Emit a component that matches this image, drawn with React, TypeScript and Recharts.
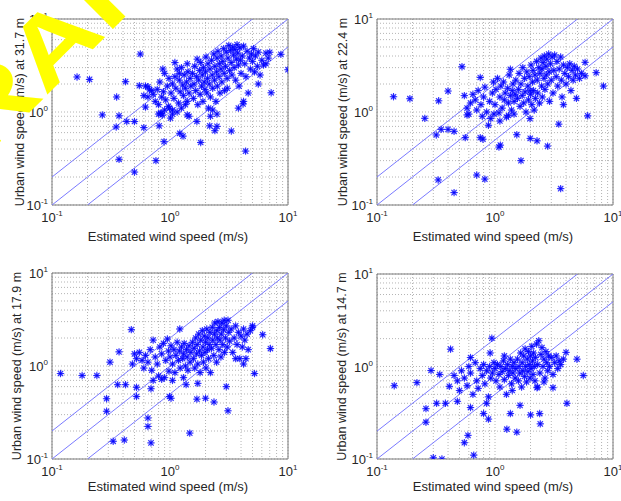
import React from 'react';
import { ScatterChart, Scatter, XAxis, YAxis, CartesianGrid, ReferenceLine, ReferenceArea } from 'recharts';

type Pt = [number, number];

const AXIS_TICKS = [0.1, 0.2, 0.3, 0.4, 0.5, 0.6, 0.7, 0.8, 0.9, 1, 2, 3, 4, 5, 6, 7, 8, 9, 10];
const DECADE_LABELS: Record<string, string> = { '0.1': '-1', '1': '0', '10': '1' };
const LINE_FACTORS = [2, 1, 0.5];
const X_LABEL = 'Estimated wind speed (m/s)';
const Y_LABELS = [
  'Urban wind speed (m/s) at 31.7 m',
  'Urban wind speed (m/s) at 22.4 m',
  'Urban wind speed (m/s) at 17.9 m',
  'Urban wind speed (m/s) at 14.7 m',
];
const WATERMARK = 'DRAFT';

const POINTS_31_7: Pt[] = [
  [0.163, 2.38], [0.208, 2.24], [0.56, 4.2], [0.42, 2.12], [0.353, 1.45], [0.267, 0.93], [0.37, 0.91], [0.43, 0.79],
  [0.5, 0.79], [0.35, 0.69], [0.6, 0.68], [0.37, 0.31], [0.5, 0.226], [0.76, 0.3], [0.81, 0.71], [0.89, 0.48],
  [0.62, 1.13], [0.55, 1.92], [0.65, 1.87], [0.67, 1.73], [1.21, 0.59], [1.29, 0.55], [1.82, 0.47], [1.69, 0.79],
  [2.17, 0.71], [2.4, 0.63], [2.5, 0.7], [3.31, 0.625], [4.37, 0.38], [4.16, 1.22], [7.2, 1.61], [10, 2.85],
  [8.7, 4.17], [7.0, 4.39], [5.6, 2.0], [6.5, 3.3], [3.06, 1.8], [1.01, 0.86], [1.05, 0.95], [1.4, 0.93],
  [1.45, 0.9], [0.99, 1.1], [0.85, 0.97], [0.86, 0.93],
  [0.72, 1.55], [0.75, 1.3], [0.78, 1.75], [0.8, 1.2], [0.82, 2.1], [0.85, 1.45], [0.88, 1.65], [0.9, 2.6],
  [0.92, 1.35], [0.95, 1.9], [0.97, 1.15], [0.98, 2.3], [0.8, 0.95], [0.83, 0.97], [0.9, 1.05], [0.87, 2.9],
  [0.7, 1.7], [0.65, 1.45], [0.6, 1.5], [0.62, 1.9],
  [1.02, 1.6], [1.05, 2.0], [1.08, 1.4], [1.1, 2.4], [1.12, 1.8], [1.15, 2.9], [1.18, 1.25], [1.2, 2.2],
  [1.22, 1.65], [1.25, 3.0], [1.28, 1.95], [1.3, 1.5], [1.32, 2.5], [1.35, 1.8], [1.38, 2.1], [1.4, 1.3],
  [1.42, 2.7], [1.45, 1.6], [1.48, 2.3], [1.5, 1.9], [1.05, 1.05], [1.15, 1.0], [1.25, 1.1], [1.35, 1.2],
  [1.1, 3.4], [1.2, 2.6], [1.4, 3.3],
  [1.55, 2.6], [1.58, 1.4], [1.6, 2.0], [1.62, 3.1], [1.65, 1.7], [1.68, 2.4], [1.7, 3.7], [1.72, 1.2],
  [1.75, 2.2], [1.78, 2.8], [1.8, 1.55], [1.82, 3.4], [1.85, 1.9], [1.88, 2.5], [1.9, 1.3], [1.92, 3.0],
  [1.95, 2.1], [1.98, 1.75], [2.0, 2.7], [2.02, 3.9], [2.05, 1.6], [2.08, 2.3], [2.1, 3.3], [2.12, 1.1],
  [2.15, 2.0], [2.18, 2.9], [2.2, 1.45],
  [2.25, 3.6], [2.28, 2.5], [2.3, 1.8], [2.35, 4.2], [2.38, 2.2], [2.4, 3.1], [2.45, 1.3], [2.48, 2.7],
  [2.5, 3.8], [2.52, 1.9], [2.55, 4.5], [2.6, 2.4], [2.62, 3.3], [2.65, 1.6], [2.7, 2.9], [2.72, 4.0],
  [2.75, 2.1], [2.8, 3.5], [2.85, 4.8], [2.88, 2.6], [2.9, 1.7], [2.95, 3.1], [3.0, 4.4], [3.05, 2.3],
  [3.1, 3.8], [3.15, 5.2], [3.2, 2.8], [2.3, 1.05], [2.5, 0.95], [2.2, 0.9],
  [3.25, 4.6], [3.3, 3.4], [3.35, 2.5], [3.4, 5.0], [3.45, 4.1], [3.5, 3.0], [3.55, 4.7], [3.6, 2.2],
  [3.65, 3.7], [3.7, 5.3], [3.75, 4.3], [3.8, 3.2], [3.85, 1.9], [3.9, 4.9], [3.95, 3.6], [4.0, 2.6],
  [4.1, 4.0], [4.2, 5.1], [4.3, 3.3], [4.4, 2.4], [4.5, 4.5], [4.6, 1.6], [4.7, 3.8], [4.8, 2.9],
  [4.9, 4.2], [5.0, 3.5], [5.1, 4.8], [5.2, 2.7], [5.3, 4.0], [5.5, 3.1], [5.6, 4.4], [5.8, 2.5],
  [6.0, 3.6], [6.2, 3.2], [6.5, 4.3], [6.8, 3.8], [4.2, 1.3], [3.8, 1.1],
];

const POINTS_22_4: Pt[] = [
  [0.138, 1.46], [0.19, 1.39], [0.254, 0.855], [0.333, 1.32], [0.4, 1.68], [0.318, 0.566], [0.35, 0.65], [0.4, 0.65],
  [0.45, 0.62], [0.33, 0.186], [0.45, 0.136], [0.525, 3.07], [0.56, 0.53], [0.58, 0.93], [0.7, 0.21], [0.82, 0.19],
  [0.75, 0.53], [0.79, 0.51], [1.11, 0.44], [1.08, 0.42], [1.53, 0.57], [1.66, 0.3], [1.99, 0.52], [2.27, 0.49],
  [2.79, 0.43], [3.47, 0.74], [3.6, 0.15], [3.8, 1.2], [6.1, 0.91], [8.3, 1.9], [7.2, 2.65], [5.8, 3.42],
  [1.35, 2.88], [1.99, 1.7],
  [0.55, 1.5], [0.58, 1.1], [0.6, 0.95], [0.62, 1.25], [0.65, 1.55], [0.68, 1.35], [0.7, 1.05], [0.72, 1.7],
  [0.75, 2.35], [0.76, 1.2], [0.78, 0.9], [0.8, 1.45], [0.82, 1.85], [0.85, 1.0], [0.88, 0.72], [0.9, 1.3],
  [0.92, 0.85], [0.95, 1.6], [0.97, 2.1], [0.98, 0.95],
  [1.0, 1.2], [1.02, 1.75], [1.05, 2.3], [1.08, 0.98], [1.1, 1.45], [1.12, 1.9], [1.15, 1.1], [1.18, 2.1],
  [1.2, 1.35], [1.22, 1.6], [1.25, 0.88], [1.28, 1.8], [1.3, 1.25], [1.32, 2.5], [1.35, 1.5], [1.38, 1.05],
  [1.4, 1.7], [1.42, 2.0], [1.45, 1.3], [1.48, 1.55], [1.5, 2.2], [1.1, 0.8], [1.3, 0.92], [1.45, 0.95],
  [1.55, 1.4], [1.58, 1.75], [1.6, 2.6], [1.63, 1.15], [1.66, 2.0], [1.7, 1.5], [1.72, 3.0], [1.75, 1.25],
  [1.78, 2.3], [1.8, 1.65], [1.83, 1.0], [1.86, 2.7], [1.9, 1.9], [1.92, 1.35], [1.95, 2.4], [1.98, 0.85],
  [2.0, 1.55], [2.02, 3.2], [2.05, 1.2], [2.08, 2.1], [2.1, 2.8], [2.12, 1.7], [2.15, 1.05], [2.18, 2.5],
  [2.2, 1.4],
  [2.25, 3.5], [2.28, 2.2], [2.3, 1.6], [2.35, 3.0], [2.38, 1.25], [2.4, 2.6], [2.45, 3.8], [2.48, 1.9],
  [2.5, 2.9], [2.52, 1.45], [2.55, 3.4], [2.6, 2.3], [2.62, 4.0], [2.65, 1.75], [2.7, 3.1], [2.72, 2.5],
  [2.75, 3.7], [2.8, 2.0], [2.85, 4.2], [2.88, 2.7], [2.9, 1.3], [2.95, 3.3], [3.0, 2.2], [3.05, 3.9],
  [3.1, 1.6], [3.15, 2.8], [3.2, 4.1],
  [3.3, 2.4], [3.35, 3.5], [3.4, 1.9], [3.5, 2.9], [3.6, 3.9], [3.65, 2.2], [3.7, 1.45], [3.8, 3.2],
  [3.9, 2.6], [4.0, 2.0], [4.1, 3.0], [4.2, 2.4], [4.3, 3.3], [4.4, 1.7], [4.5, 2.8], [4.6, 2.2],
  [4.7, 3.1], [4.8, 2.5], [4.9, 1.4], [5.0, 2.9], [5.2, 2.3], [5.4, 2.6], [5.8, 2.45],
];

const POINTS_17_9: Pt[] = [
  [0.118, 0.83], [0.18, 0.79], [0.24, 0.79], [0.31, 1.1], [0.29, 0.445], [0.29, 0.326], [0.33, 0.155], [0.41, 0.16],
  [0.36, 0.63], [0.42, 0.63], [0.37, 1.42], [0.47, 2.46], [0.52, 0.47], [0.52, 0.59], [0.65, 0.276], [0.65, 0.224],
  [0.69, 0.149], [0.69, 0.57], [0.99, 0.47], [1.02, 0.45], [1.37, 0.63], [1.47, 0.19], [1.69, 0.44], [2.0, 0.45],
  [2.36, 0.41], [3.1, 0.33], [3.0, 0.6], [1.72, 0.65], [5.2, 0.83], [6.1, 2.17], [7.1, 1.54], [5.0, 2.6],
  [1.21, 2.5],
  [0.48, 1.05], [0.5, 1.35], [0.52, 1.2], [0.55, 1.4], [0.58, 1.15], [0.6, 0.95], [0.62, 1.3], [0.65, 1.1],
  [0.68, 1.5], [0.7, 0.9], [0.72, 1.9], [0.75, 1.25], [0.78, 1.05], [0.8, 0.78], [0.82, 1.6], [0.85, 1.35],
  [0.88, 1.75], [0.9, 0.75], [0.92, 1.15], [0.95, 1.95], [0.97, 1.45], [0.98, 0.88], [0.72, 0.7], [0.85, 0.72],
  [1.0, 1.25], [1.02, 1.65], [1.05, 1.05], [1.08, 1.5], [1.1, 0.85], [1.12, 1.3], [1.15, 1.8], [1.18, 1.15],
  [1.2, 1.45], [1.22, 0.95], [1.25, 1.6], [1.28, 1.2], [1.3, 1.35], [1.32, 1.75], [1.35, 1.0], [1.38, 1.5],
  [1.4, 1.25], [1.42, 0.9], [1.45, 1.65], [1.48, 1.1], [1.5, 1.4], [1.05, 0.7], [1.3, 0.75],
  [1.55, 1.8], [1.58, 1.2], [1.6, 1.55], [1.62, 0.95], [1.65, 2.0], [1.68, 1.35], [1.7, 1.7], [1.72, 1.05],
  [1.75, 2.2], [1.78, 1.45], [1.8, 0.85], [1.82, 1.9], [1.85, 1.3], [1.88, 2.4], [1.9, 1.6], [1.92, 1.1],
  [1.95, 2.1], [1.98, 1.4], [2.0, 1.8], [2.02, 0.95], [2.05, 2.5], [2.08, 1.5], [2.1, 2.0], [2.12, 1.2],
  [2.15, 1.7], [2.18, 2.3], [2.2, 0.85],
  [2.25, 1.55], [2.28, 2.6], [2.3, 1.9], [2.35, 1.3], [2.38, 2.2], [2.4, 2.9], [2.45, 1.7], [2.48, 1.1],
  [2.5, 2.4], [2.52, 2.0], [2.55, 3.0], [2.6, 1.5], [2.62, 2.6], [2.65, 1.9], [2.7, 1.25], [2.72, 2.2],
  [2.75, 2.9], [2.8, 1.7], [2.85, 2.45], [2.88, 3.1], [2.9, 1.4], [2.95, 2.0], [3.0, 2.7], [3.05, 1.6],
  [3.1, 3.1], [3.15, 2.3], [3.2, 1.85],
  [3.3, 2.5], [3.4, 1.4], [3.5, 2.0], [3.6, 2.7], [3.7, 1.7], [3.8, 2.3], [3.9, 1.2], [4.0, 2.1],
  [4.1, 1.6], [4.2, 2.5], [4.3, 1.9], [4.4, 1.2], [4.5, 2.2], [4.6, 1.5], [4.8, 2.4], [5.0, 2.7],
  [4.2, 1.05], [3.6, 1.2],
];

const POINTS_14_7: Pt[] = [
  [0.14, 0.62], [0.218, 0.67], [0.287, 0.905], [0.34, 0.82], [0.42, 1.54], [0.26, 0.35], [0.32, 0.4], [0.38, 0.4],
  [0.26, 0.25], [0.3, 0.103], [0.355, 0.1], [0.55, 0.15], [0.59, 0.18], [0.66, 0.11], [0.41, 0.61], [0.48, 0.42],
  [0.62, 0.36], [0.8, 0.31], [0.88, 0.27], [0.94, 2.02], [0.91, 1.4], [1.26, 0.21], [1.53, 0.195], [1.35, 0.31],
  [1.63, 0.38], [2.0, 0.3], [2.27, 0.59], [2.42, 0.24], [2.39, 0.31], [3.1, 0.59], [4.07, 0.4], [4.0, 1.42],
  [4.95, 1.2], [5.6, 0.8],
  [0.45, 0.8], [0.48, 0.7], [0.5, 0.55], [0.52, 0.9], [0.55, 0.75], [0.58, 0.62], [0.6, 1.0], [0.62, 0.85],
  [0.65, 0.5], [0.68, 1.1], [0.7, 0.7], [0.72, 0.58], [0.75, 0.95], [0.78, 0.8], [0.8, 1.05], [0.82, 0.65],
  [0.85, 0.9], [0.88, 0.47], [0.9, 1.0], [0.92, 0.75], [0.95, 0.85], [0.98, 1.1], [0.62, 1.25], [0.85, 0.4],
  [1.0, 0.95], [1.02, 0.7], [1.05, 1.05], [1.08, 0.82], [1.1, 0.6], [1.12, 1.0], [1.15, 0.88], [1.18, 1.15],
  [1.2, 0.72], [1.22, 0.95], [1.25, 0.5], [1.28, 1.05], [1.3, 0.8], [1.32, 0.9], [1.35, 1.2], [1.38, 0.65],
  [1.4, 1.0], [1.42, 0.85], [1.45, 1.1], [1.48, 0.75], [1.5, 0.95], [1.2, 1.3], [1.4, 0.55],
  [1.55, 1.2], [1.58, 0.7], [1.6, 1.0], [1.62, 0.85], [1.65, 1.4], [1.68, 0.6], [1.7, 1.1], [1.72, 0.9],
  [1.75, 1.3], [1.78, 0.78], [1.8, 1.55], [1.82, 1.0], [1.85, 0.68], [1.88, 1.2], [1.9, 0.88], [1.92, 1.45],
  [1.95, 1.05], [1.98, 0.75], [2.0, 1.3], [2.02, 0.95], [2.05, 1.65], [2.08, 1.15], [2.1, 0.82], [2.12, 1.4],
  [2.15, 1.0], [2.18, 0.7], [2.2, 1.25],
  [2.25, 1.75], [2.3, 1.05], [2.35, 1.9], [2.4, 0.85], [2.45, 1.35], [2.5, 1.6], [2.55, 1.0], [2.6, 1.2],
  [2.65, 0.75], [2.7, 1.45], [2.75, 1.1], [2.8, 0.9], [2.85, 1.3], [2.9, 1.0], [3.0, 1.25], [3.1, 0.82],
  [3.2, 1.1], [3.3, 1.3], [3.4, 0.95], [3.5, 1.15], [3.6, 1.05], [3.8, 1.2], [2.3, 0.6], [2.6, 0.68],
];

const PANEL_DATA = [POINTS_31_7, POINTS_22_4, POINTS_17_9, POINTS_14_7];

// layout (pixels)
const LAYOUT = [
  { left: 0, top: 0, w: 310, px: 52, py: 19, pw: 236, ph: 186, ylx: 20 },
  { left: 310, top: 0, w: 311, px: 67, py: 19, pw: 236, ph: 186, ylx: 33 },
  { left: 0, top: 250, w: 310, px: 52, py: 23, pw: 236, ph: 186, ylx: 17 },
  { left: 310, top: 250, w: 311, px: 67, py: 24, pw: 236, ph: 185, ylx: 32 },
];

const FONT = '"Liberation Sans", Arial, sans-serif';
const TEXT = '#262626';

const Asterisk = (props: any) => {
  const { cx, cy } = props;
  if (cx == null || cy == null) return null;
  const r = 3.7;
  const d = 2.7;
  return (
    <g>
      <circle cx={cx} cy={cy} r={2.6} fill="#4040ff" fillOpacity={0.3} />
      <g stroke="#0000ff" strokeWidth={1.1} strokeOpacity={0.8}>
        <line x1={cx - r} y1={cy} x2={cx + r} y2={cy} />
        <line x1={cx} y1={cy - r} x2={cx} y2={cy + r} />
        <line x1={cx - d} y1={cy - d} x2={cx + d} y2={cy + d} />
        <line x1={cx - d} y1={cy + d} x2={cx + d} y2={cy - d} />
      </g>
    </g>
  );
};

const expOf = (v: number) => DECADE_LABELS[String(v)];

const XTick = (props: any) => {
  const { x, y, payload } = props;
  const e = expOf(payload.value);
  if (e === undefined) return null;
  return (
    <text x={x} y={y + 17} textAnchor="middle" fontSize={13} fill={TEXT} fontFamily={FONT}>
      10<tspan dy={-6} fontSize={8}>{e}</tspan>
    </text>
  );
};

const YTick = (props: any) => {
  const { x, y, payload } = props;
  const e = expOf(payload.value);
  if (e === undefined) return null;
  return (
    <text x={x - 4} y={y + 5} textAnchor="end" fontSize={13} fill={TEXT} fontFamily={FONT}>
      10<tspan dy={-6} fontSize={8}>{e}</tspan>
    </text>
  );
};

const Panel = ({ idx }: { idx: number }) => {
  const L = LAYOUT[idx];
  const data = PANEL_DATA[idx].map(([x, y]) => ({ x, y }));
  const W = L.w;
  const H = 250;
  const margin = {
    top: L.py,
    left: L.px - 30,
    right: W - L.px - L.pw,
    bottom: H - L.py - L.ph - 30,
  };
  return (
    <div style={{ position: 'absolute', left: L.left, top: L.top, width: W, height: H }}>
      <ScatterChart width={W} height={H} margin={margin}>
        <CartesianGrid stroke="#b4b4b4" strokeDasharray="1 2" strokeWidth={1} />
        <XAxis
          type="number"
          dataKey="x"
          scale="log"
          domain={[0.1, 10]}
          ticks={AXIS_TICKS}
          interval={0}
          allowDataOverflow
          height={30}
          tickSize={0}
          tickMargin={0}
          tickLine={false}
          axisLine={false}
          tick={<XTick />}
        />
        <YAxis
          type="number"
          dataKey="y"
          scale="log"
          domain={[0.1, 10]}
          ticks={AXIS_TICKS}
          interval={0}
          allowDataOverflow
          width={30}
          tickSize={0}
          tickMargin={0}
          tickLine={false}
          axisLine={false}
          tick={<YTick />}
        />
        {LINE_FACTORS.map((f) => (
          <ReferenceLine
            key={f}
            segment={[
              { x: Math.max(0.1, 0.1 / f), y: Math.max(0.1, 0.1 / f) * f },
              { x: Math.min(10, 10 / f), y: Math.min(10, 10 / f) * f },
            ]}
            stroke="#7a7aff"
            strokeWidth={1}
            ifOverflow="hidden"
          />
        ))}
        <ReferenceArea x1={0.1} x2={10} y1={0.1} y2={10} fill="none" stroke="#7a7a7a" strokeWidth={1} fillOpacity={0} />
        <Scatter data={data} shape={<Asterisk />} isAnimationActive={false} />
      </ScatterChart>
    </div>
  );
};

export default function App() {
  return (
    <div style={{ position: 'absolute', left: 0, top: 0, width: 621, height: 501, background: '#fff', overflow: 'hidden' }}>
      {LAYOUT.map((_, i) => (
        <Panel key={i} idx={i} />
      ))}
      <svg width={621} height={501} style={{ position: 'absolute', left: 0, top: 0, pointerEvents: 'none' }}>
        {LAYOUT.map((L, i) => (
          <g key={i} fontFamily={FONT} fill={TEXT}>
            <text x={L.left + L.px + L.pw / 2 - 2} y={L.top + 241} textAnchor="middle" fontSize={13}>
              {X_LABEL}
            </text>
            <text
              transform={`translate(${L.left + L.ylx},${L.top + L.py + L.ph / 2}) rotate(-90)`}
              textAnchor="middle"
              dy="0.35em"
              fontSize={12.5}
            >
              {Y_LABELS[i]}
            </text>
          </g>
        ))}
        <g transform="translate(-79,221) rotate(-45) scale(1.28,1)">
          <text x={0} y={0} fontSize={95} fontWeight="bold" fontFamily={FONT} fill="#ffff00">
            {WATERMARK}
          </text>
        </g>
      </svg>
    </div>
  );
}
